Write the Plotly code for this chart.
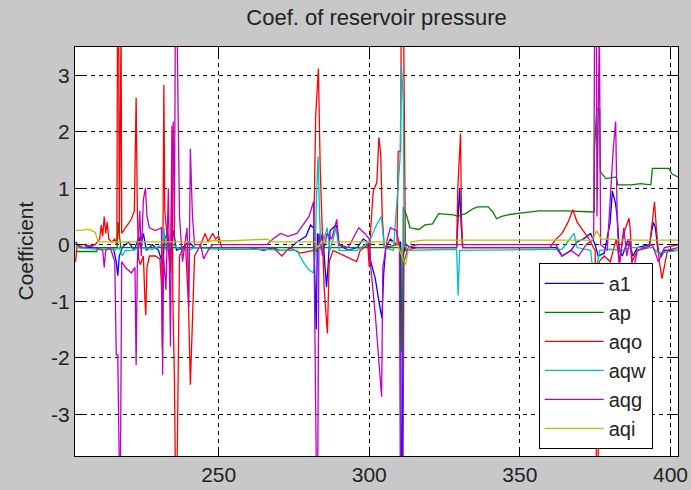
import plotly.graph_objects as go

# ---------------- data (x, coefficient) ----------------
A1 = [(202.5, 0.05), (204, -0.05), (215, -0.05), (216, -0.3), (216.5, -0.55), (217, -0.2), (218, -0.05),
      (220, 0.05), (222, -0.1), (223.5, 0.15), (224, -0.05), (225, 0.2), (226, -0.1), (228, 0.0), (230, -0.1),
      (231.5, -0.35), (232, 0.1), (233, 0.2), (234, -0.2), (235, 0.25), (236, -0.1), (238, -0.05), (240, 0.05),
      (242, -0.05), (260, -0.05), (265, -0.1), (268, -0.05), (270, -0.1), (273, -0.1), (276, 0.05), (279, 0.15),
      (280.5, 0.35), (281.5, 0.3), (282, -1.0), (282.4, -1.5), (282.8, 0.2), (283.5, 0.0), (284.5, 0.2),
      (285.3, -0.3), (285.8, -0.75), (286.3, -0.4), (287, 0.25), (289, 0.35), (290, 0.0), (293, -0.1),
      (296, -0.05), (298, 0.1), (299.5, 0.05), (300.5, -0.3), (302, -0.6), (303.5, -1.1), (304.2, -1.3),
      (304.8, -0.5), (305.5, -0.05), (307, 0.1), (309, 0.0), (310.4, 0.05), (310.6, -3.9), (311.0, -3.9),
      (311.3, -0.2), (312, 0.0), (314, -0.05), (329, -0.05), (329.5, 0.5), (330, 1.0), (330.5, 0.35),
      (331, -0.05), (362, -0.05), (364, -0.2), (367, -0.1), (369, 0.05), (371, 0.1), (373.5, 0.2), (375, 0.0),
      (376, -0.2), (378, -0.15), (380, 0.4), (380.7, 0.95), (381.7, 0.75), (382.3, 0.5), (383, -0.1),
      (384, -0.2), (386, 0.1), (387.5, -0.2), (389, -0.05), (393, 0.0), (394.3, 0.4), (395, 0.3),
      (395.8, -0.1), (397, -0.2), (398, -0.1), (402.5, -0.1)]

AP = [(202.5, -0.12), (209.5, -0.12), (210, -0.05), (216.3, -0.05), (216.6, 0.4), (217, 0.2), (217.5, -0.05),
      (282, -0.05), (282.5, -0.12), (283, -0.05), (310.5, -0.05), (310.8, -1.9), (311.1, -1.5), (311.3, 0.67),
      (312.5, 0.5), (313.5, 0.3), (316.5, 0.27), (318.5, 0.35), (321, 0.37), (323, 0.55), (328, 0.53),
      (329.5, 0.5), (330.5, 0.53), (332, 0.55), (334.5, 0.64), (336, 0.67), (339.5, 0.67), (341, 0.58),
      (342.3, 0.46), (344, 0.5), (346, 0.53), (350, 0.56), (356.5, 0.6), (365, 0.6), (374.7, 0.58),
      (374.8, 1.7), (375.5, 2.4), (376.5, 2.4), (376.7, 1.3), (378.5, 1.17), (382, 1.2), (382.5, 1.06),
      (387, 1.06), (390, 1.08), (393.5, 1.06), (394, 1.35), (399.5, 1.35), (400.5, 1.25), (402.5, 1.2)]

AQO = [(202.5, -0.3), (203, 0.0), (205, -0.05), (209, 0.0), (210.5, 0.1), (211, 0.35), (211.5, 0.15),
       (212, 0.5), (212.5, 0.2), (213, 0.4), (213.5, 0.1), (214.5, 0.05), (215.5, 0.1), (216.2, 0.0),
       (216.4, 3.9), (216.8, 3.9), (217, 0.1), (217.3, 3.9), (217.6, 3.9), (217.8, 0.2), (219, 0.3),
       (221, 0.45), (222, 0.6), (222.3, 1.65), (222.6, 2.6), (223, 0.6), (223.4, -0.25), (224, -0.35),
       (225, -0.2), (225.5, -0.95), (225.8, -1.25), (226.2, -0.4), (227, -0.2), (229, -0.2), (230.5, -0.25),
       (231, -0.7), (231.3, -1.85), (231.6, 1.0), (231.8, 2.83), (232.1, 0.6), (233, 0.0), (234, -0.5),
       (234.5, 2.1), (234.8, -1.0), (235.3, -2.37), (235.6, -3.9), (236.2, -3.9), (236.5, -2.78), (237, -0.2),
       (239, 0.0), (240, -1.1), (240.6, -2.48), (241, -1.8), (241.3, -1.2), (242, -0.2), (244, 0.0),
       (245.5, 0.2), (246.5, 0.05), (248, 0.2), (249, 0.1), (250, 0.15), (251, -0.05), (268, -0.05),
       (271, -0.2), (273.5, -0.05), (277, -0.15), (281.5, -0.1), (282.2, 2.27), (283.1, 3.12), (283.7, 1.38),
       (284.3, 0.2), (285, -0.75), (286.1, -1.57), (286.7, -0.3), (288, -0.1), (292, -0.2), (295.8, -0.3),
       (297, -0.1), (299.5, 0.0), (300, -0.4), (300.5, 0.3), (301.3, 0.94), (302.5, 1.1), (303.2, 1.9),
       (303.8, 1.6), (304.3, 0.5), (305, -0.05), (309.2, 0.0), (309.6, 1.65), (310.4, 1.65), (310.6, 3.9),
       (311.4, 3.9), (311.7, 1.7), (312, -0.1), (316, -0.05), (329, -0.05), (329.4, 1.0), (329.8, 1.47),
       (330.3, 1.97), (330.6, 0.5), (331, -0.05), (359.9, -0.05), (362, 0.1), (364, 0.2), (366, 0.4),
       (367.6, 0.62), (369, 0.4), (371, 0.25), (373, 0.1), (374.4, -0.05), (375, -0.1), (375.4, -3.9),
       (376, -3.9), (376.3, -0.3), (378, -0.2), (380, -0.3), (382, 0.1), (383, -0.3), (384.5, 0.2),
       (386.2, 0.47), (386.6, 0.3), (387.3, -0.3), (389, -0.1), (393, -0.05), (394.2, 0.5), (394.7, 0.76),
       (395.3, 0.3), (396.3, -0.3), (397.2, -0.6), (398, -0.4), (399, -0.1), (402.5, -0.05)]

AQW = [(202.5, -0.05), (210, -0.08), (216, -0.08), (217, -0.05), (218, -0.2), (219, -0.1), (221, -0.1),
       (224, -0.05), (228, -0.08), (231, 0.0), (231.8, 0.3), (232.5, -0.1), (235, 0.0), (237, -0.08),
       (240, -0.1), (242, -0.05), (250, -0.08), (266, -0.08), (270, -0.1), (276, -0.1), (278, -0.3),
       (280, -0.45), (281.5, -0.5), (282, -0.2), (282.5, 0.9), (283, 1.56), (283.5, 0.5), (284, -0.1),
       (286, 0.3), (287, -0.1), (289, 0.3), (290, -0.1), (296, -0.1), (300, 0.05), (302.4, 0.35), (304, 0.5),
       (305, -0.05), (308, -0.1), (310.2, 1.5), (310.7, 3.2), (311.3, 2.5), (311.6, 0.0), (313, -0.1),
       (329, -0.08), (329.5, -0.9), (330, -0.1), (364, -0.08), (366.5, 0.1), (368, 0.2), (369, -0.05),
       (373.5, -0.1), (374.5, -0.6), (375.5, -0.4), (376.5, -0.1), (380, -0.08), (384, -0.1), (387, -0.05),
       (394, -0.05), (396, -0.15), (402.5, -0.1)]

AQG = [(202.5, 0.0), (205, 0.0), (209, -0.05), (211.5, -0.1), (212, -0.4), (212.5, -0.1), (214, -0.05),
       (215.5, -0.3), (216, -1.95), (216.5, -1.95), (217, -3.9), (217.4, -3.9), (217.8, -0.3), (219, -0.4),
       (221, -0.5), (222.2, -0.4), (222.6, -2.13), (223, -0.3), (223.8, 0.6), (224.3, -0.2), (225, 0.8),
       (225.7, 1.0), (226.2, 0.5), (227, 0.3), (229, 0.25), (231, 0.3), (231.4, -2.3), (231.7, -0.2),
       (232.5, -0.8), (233.3, 1.0), (234, -1.8), (234.5, 1.5), (234.9, 2.18), (235.3, 0.1), (235.6, 3.9),
       (236.2, 3.9), (236.5, 2.5), (237, 0.5), (238, -0.3), (239.5, 0.3), (240.1, -1.1), (240.6, 1.7),
       (241, 1.0), (241.3, 0.5), (242, 0.0), (244, 0.0), (245, -0.25), (246.5, -0.1), (248, 0.0), (266, 0.0),
       (268, 0.1), (270.5, 0.2), (273, 0.15), (276, 0.2), (278, 0.35), (280, 0.5), (281.5, 0.76), (282, -1.9),
       (282.4, -3.9), (282.9, -3.9), (283.3, 0.2), (284.5, -0.2), (286, 0.2), (287.5, 0.1), (289.2, 0.45),
       (290, 0.0), (293, -0.05), (296.5, 0.3), (298.5, 0.2), (300, 0.1), (300.5, -0.4), (302, -1.24),
       (303.5, -2.3), (304.1, -2.69), (304.5, -0.4), (306, 0.1), (307, 0.3), (309, 0.25), (310, 0.0),
       (310.3, -3.9), (311.2, -3.9), (311.5, -0.3), (313, -0.05), (316, 0.0), (362, 0.0), (364, -0.2),
       (367, -0.1), (369.5, -0.2), (372, 0.0), (374.5, 0.1), (374.8, 3.9), (375.4, 3.9), (375.6, 0.5),
       (376.1, 3.9), (376.4, 3.9), (376.8, 0.0), (379, -0.1), (381, 1.7), (381.8, 2.18), (382.3, 0.5),
       (383, -0.4), (384.5, 0.3), (385.5, -0.2), (386.5, 0.1), (387.5, -0.5), (389, -0.1), (394, 0.0),
       (396, -0.3), (398, -0.05), (402.5, 0.0)]

AQI = [(202.5, 0.25), (207, 0.27), (209, 0.22), (210, 0.05), (246, 0.05), (248, 0.07), (255, 0.07),
       (259, 0.08), (262, 0.1), (266, 0.1), (268, 0.05), (282, 0.05), (283, -0.05), (284, 0.05), (309, 0.05),
       (311, -0.2), (312, -0.35), (313, -0.1), (314, 0.05), (318, 0.08), (374, 0.08), (375.5, 0.25),
       (377, 0.1), (380, 0.1), (384, 0.08), (402.5, 0.08)]

SERIES_NAMES = ["a1", "ap", "aqo", "aqw", "aqg", "aqi"]
SERIES_DATA = [A1, AP, AQO, AQW, AQG, AQI]
SERIES_COLORS = ["#0000ff", "#008000", "#ff0000", "#00bfbf", "#bf00bf", "#bfbf00"]

X_TICKS = [250, 300, 350, 400]
X_TICK_LABELS = ["250", "300", "350", "400"]
Y_TICKS = [-3, -2, -1, 0, 1, 2, 3]
Y_TICK_LABELS = ["-3", "-2", "-1", "0", "1", "2", "3"]

FONT = "Liberation Sans, Arial, sans-serif"

fig = go.Figure()
for name, pts, col in zip(SERIES_NAMES, SERIES_DATA, SERIES_COLORS):
    xs = [p[0] for p in pts]
    ys = [p[1] for p in pts]
    fig.add_trace(go.Scatter(x=xs, y=ys, mode="lines", name=name,
                             line=dict(color=col, width=1.3)))

axis_common = dict(
    showline=True, linecolor="black", linewidth=1, mirror="ticks",
    ticks="inside", ticklen=8, tickcolor="black", tickwidth=1,
    showgrid=True, gridcolor="black", gridwidth=1, griddash="4px,4px",
    zeroline=False, tickfont=dict(family=FONT, size=21, color="#222222"),
)

fig.update_layout(
    width=691, height=490,
    paper_bgcolor="#c8c8c8", plot_bgcolor="white",
    margin=dict(l=75, r=13, t=47, b=34, autoexpand=False),
    title=dict(text="Coef. of reservoir pressure", xref="paper", x=0.5, xanchor="center",
               y=1 - 17 / 490, yanchor="middle",
               font=dict(family=FONT, size=22, color="#222222")),
    xaxis=dict(range=[202.3, 402.5], tickvals=X_TICKS, ticktext=X_TICK_LABELS, **axis_common),
    yaxis=dict(range=[-3.74, 3.5], tickvals=Y_TICKS, ticktext=Y_TICK_LABELS, **axis_common),
    showlegend=True,
    legend=dict(x=0.769, y=0.472, xanchor="left", yanchor="top",
                bgcolor="white", bordercolor="black", borderwidth=1,
                font=dict(family=FONT, size=20, color="#222222"),
                itemwidth=59, entrywidth=65, tracegroupgap=0),
    annotations=[dict(text="Coefficient", textangle=-90, xref="paper", yref="paper",
                      x=(25 - 75) / 603, y=0.5, xanchor="center", yanchor="middle",
                      showarrow=False, font=dict(family=FONT, size=21, color="#222222"))],
)

fig.write_html("out.html", config={"displayModeBar": False},
               post_script="document.body.style.margin='0';document.body.style.overflow='hidden';")
